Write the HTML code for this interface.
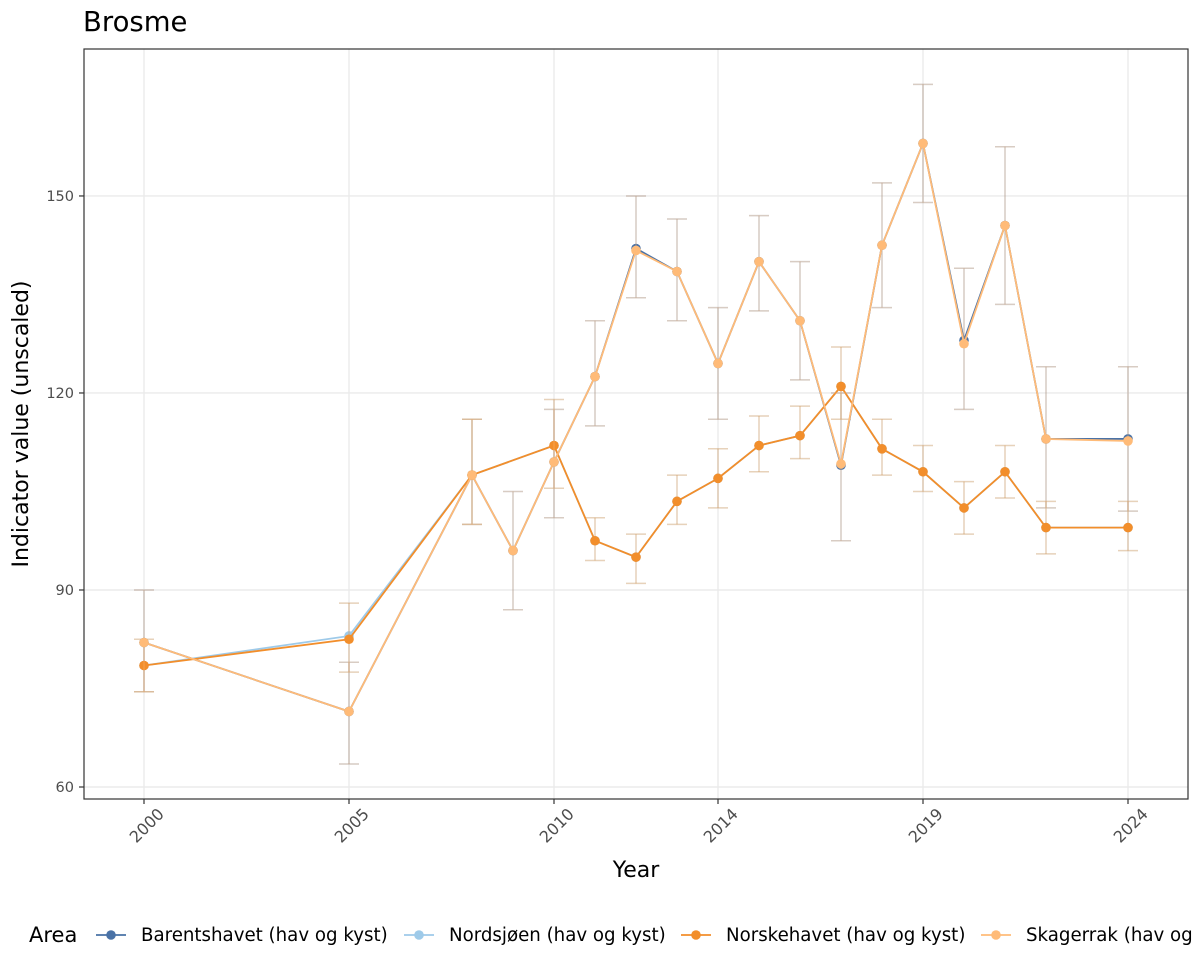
<!DOCTYPE html>
<html><head><meta charset="utf-8">
<style>
html,body{margin:0;padding:0;background:#fff;}
svg{display:block;font-family:"DejaVu Sans","Liberation Sans",sans-serif;}
</style></head>
<body>
<svg id="c" width="1200" height="975" xmlns="http://www.w3.org/2000/svg"></svg>
<script>
const svg=document.getElementById('c');
const X=y=>144+(y-2000)*41;
const Y=v=>787-(v-60)*6.567;
let s='';
s+='<rect x="0" y="0" width="1200" height="975" fill="#fff"/>';
[60,90,120,150].forEach(v=>{s+=`<line x1="84" x2="1188" y1="${Y(v)}" y2="${Y(v)}" stroke="#ebebeb" stroke-width="1.4"/>`;});
[2000,2005,2010,2014,2019,2024].forEach(v=>{s+=`<line y1="49" y2="799" x1="${X(v)}" x2="${X(v)}" stroke="#ebebeb" stroke-width="1.4"/>`;});
const yrsA=[2000,2005,2008,2009,2010,2011,2012,2013,2014,2015,2016,2017,2018,2019,2020,2021,2022,2024];
const A=[82,71.5,107.5,96,109.5,122.5,142,138.5,124.5,140,131,109,142.5,158,128,145.5,113,113];
const Ahi=[90,79,116,105,117.5,131,150,146.5,133,147,140,120,152,167,139,157.5,124,124];
const Alo=[74.5,63.5,100,87,101,115,134.5,131,116,132.5,122,97.5,133,149,117.5,133.5,102.5,102];
const yrsB=[2000,2005,2008,2010,2011,2012,2013,2014,2015,2016,2017,2018,2019,2020,2021,2022,2024];
const B=[78.5,82.5,107.5,112,97.5,95,103.5,107,112,113.5,121,111.5,108,102.5,108,99.5,99.5];
const Bhi=[82.5,88,116,119,101,98.5,107.5,111.5,116.5,118,127,116,112,106.5,112,103.5,103.5];
const Blo=[74.5,77.5,100,105.5,94.5,91,100,102.5,108,110,116,107.5,105,98.5,104,95.5,96];
function series(yrs,v,hi,lo,col,dv){
  let e='';
  yrs.forEach((y,i)=>{const x=X(y);
    e+=`<line x1="${x}" x2="${x}" y1="${Y(hi[i])}" y2="${Y(lo[i])}" stroke="${col}" stroke-opacity="0.3" stroke-width="1.5"/>`;
    e+=`<line x1="${x-10}" x2="${x+10}" y1="${Y(hi[i])}" y2="${Y(hi[i])}" stroke="${col}" stroke-opacity="0.3" stroke-width="1.5"/>`;
    e+=`<line x1="${x-10}" x2="${x+10}" y1="${Y(lo[i])}" y2="${Y(lo[i])}" stroke="${col}" stroke-opacity="0.3" stroke-width="1.5"/>`;});
  e+=`<polyline fill="none" stroke="${col}" stroke-width="1.8" points="${yrs.map((y,i)=>X(y)+','+Y(v[i]+(dv&&dv[i]||0))).join(' ')}"/>`;
  yrs.forEach((y,i)=>{e+=`<circle cx="${X(y)}" cy="${Y(v[i]+(dv&&dv[i]||0))}" r="4.8" fill="${col}"/>`;});
  return e;
}
const dN=B.map(()=>0);dN[1]=0.5;
const dS=A.map(()=>0);dS[6]=-0.3;dS[17]=-0.3;dS[14]=-0.5;dS[11]=0.2;
s+=series(yrsA,A,Ahi,Alo,'#4a72a6');
s+=series(yrsB,B,Bhi,Blo,'#9ecae9',dN);
s+=series(yrsB,B,Bhi,Blo,'#f28e2b');
s+=series(yrsA,A,Ahi,Alo,'#ffbb78',dS);
s+='<rect x="84" y="49" width="1104" height="750" fill="none" stroke="#333" stroke-width="1.2"/>';
[60,90,120,150].forEach(v=>{s+=`<line x1="79" x2="84" y1="${Y(v)}" y2="${Y(v)}" stroke="#333" stroke-width="1.2"/><text x="74" y="${Y(v)+5}" text-anchor="end" font-size="14.5" fill="#4d4d4d">${v}</text>`;});
[2000,2005,2010,2014,2019,2024].forEach(v=>{const x=X(v);s+=`<line x1="${x}" x2="${x}" y1="799" y2="804" stroke="#333" stroke-width="1.2"/><text transform="translate(${x+21},${815}) rotate(-45)" text-anchor="end" font-size="16" fill="#4d4d4d">${v}</text>`;});
s+='<text x="636" y="877" text-anchor="middle" font-size="22" fill="#000">Year</text>';
s+='<text transform="translate(28,424) rotate(-90)" text-anchor="middle" font-size="22" fill="#000">Indicator value (unscaled)</text>';
s+='<text x="83" y="31" font-size="27.5" fill="#000">Brosme</text>';
s+='<text x="29" y="942" font-size="21" fill="#000">Area</text>';
const leg=[['#4a72a6','Barentshavet (hav og kyst)',96],['#9ecae9','Nordsjøen (hav og kyst)',404],['#f28e2b','Norskehavet (hav og kyst)',681],['#ffbb78','Skagerrak (hav og kyst)',981]];
leg.forEach(([c,t,x])=>{s+=`<line x1="${x}" x2="${x+30}" y1="935" y2="935" stroke="${c}" stroke-width="1.8"/><circle cx="${x+15}" cy="935" r="4.8" fill="${c}"/><text x="${x+45}" y="941" font-size="18.2" fill="#000">${t}</text>`;});
svg.innerHTML=s;
</script>
</body></html>
